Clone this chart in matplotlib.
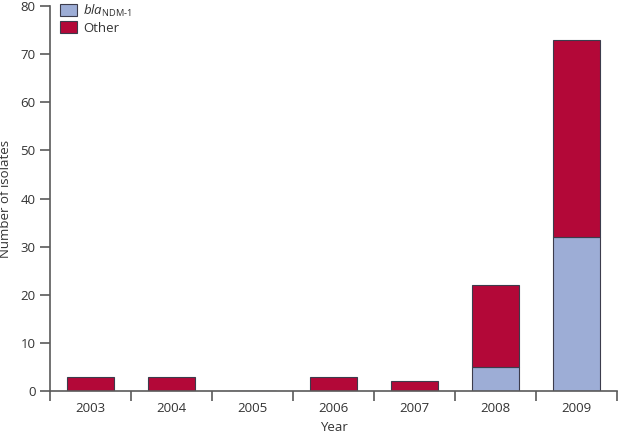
import numpy as np
import matplotlib
matplotlib.use("Agg")
import matplotlib.pyplot as plt

# ── Data ──────────────────────────────────────────────────────────────────────
years = ["2003", "2004", "2005", "2006", "2007", "2008", "2009"]
ndm1 = [0, 0, 0, 0, 0, 5, 32]
other = [3, 3, 0, 3, 2, 17, 41]

plt.rcParams["font.family"] = ["Open Sans", "DejaVu Sans"]
plt.rcParams["mathtext.fontset"] = "custom"
plt.rcParams["mathtext.rm"] = "Open Sans"
plt.rcParams["mathtext.it"] = "Open Sans:italic"
text_col = "#333333"
axis_col = "#5a5a5a"

fig = plt.figure(figsize=(6.19, 4.33), dpi=100)
ax = fig.add_axes([0.0808, 0.097, 0.916, 0.889])

x = np.arange(len(years))
w = 0.58
ax.bar(x, ndm1, width=w, color="#9dadd6", edgecolor="#3c3c4c", linewidth=0.8,
       label=r"$\mathit{bla}_{\mathrm{NDM\text{-}1}}$")
ax.bar(x, other, width=w, bottom=ndm1, color="#b30838", edgecolor="#3c3c4c",
       linewidth=0.8, label="Other")

ax.set_xlim(-0.5, len(years) - 0.5)
ax.set_ylim(0, 80)
ax.set_yticks(range(0, 81, 10))

# category labels centred, tick marks at the boundaries
ax.set_xticks(x)
ax.set_xticklabels(years)
ax.set_xticks(np.arange(-0.5, len(years)), minor=True)
ax.tick_params(axis="x", which="major", length=0, pad=8)
ax.tick_params(axis="x", which="minor", length=7, width=1.2, color=axis_col,
               direction="out")
ax.tick_params(axis="y", length=7, width=1.2, color=axis_col, direction="out")
ax.tick_params(labelsize=9.5, labelcolor=text_col)

for side in ["top", "right"]:
    ax.spines[side].set_visible(False)
for side in ["left", "bottom"]:
    ax.spines[side].set_color(axis_col)
    ax.spines[side].set_linewidth(1.2)

ax.set_xlabel("Year", fontsize=9.5, color=text_col, labelpad=4)
ax.set_ylabel("Number of isolates", fontsize=9.5, color=text_col, labelpad=6)

ax.legend(loc="upper left", bbox_to_anchor=(0.003, 1.03), frameon=False,
          fontsize=9.5, labelcolor=text_col, handlelength=1.3,
          handleheight=1.0, handletextpad=0.5, labelspacing=0.2,
          borderaxespad=0.2)

fig.savefig("out.png", dpi=100)
